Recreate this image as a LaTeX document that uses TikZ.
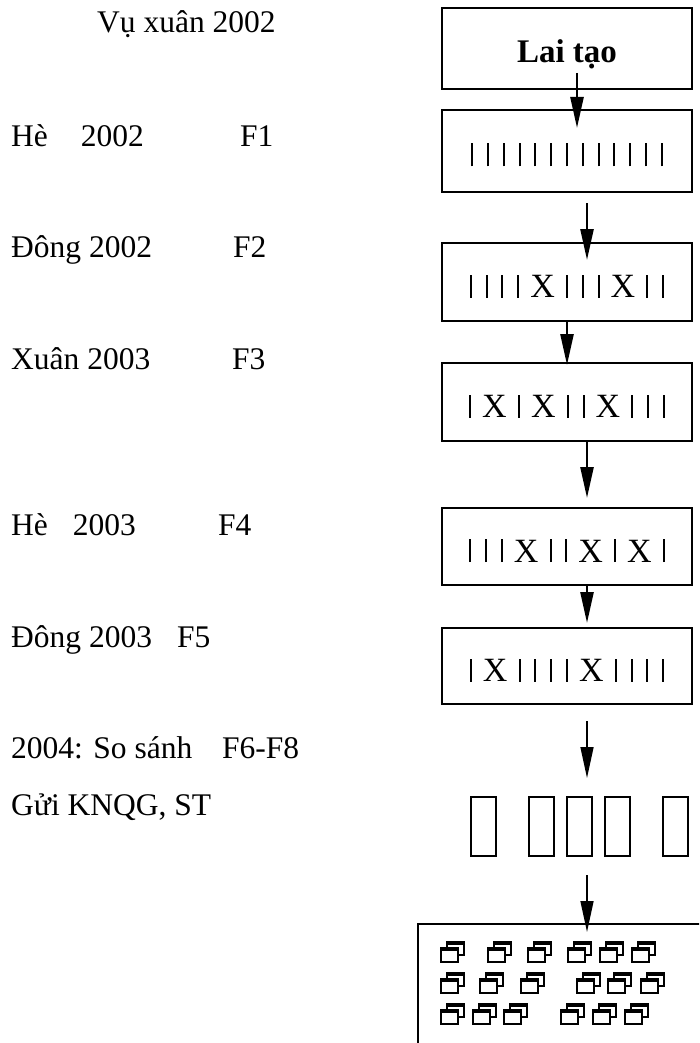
\documentclass[tikz,border=0pt]{standalone}
\usepackage{fontspec}
\setmainfont{Liberation Serif}
\usetikzlibrary{arrows.meta}
\newcommand{\vbar}{\hbox to 15.8pt{\hss\rule{2pt}{23pt}\hss}}
\newcommand{\xch}{\hbox to 33pt{\hss X\hss}}
\begin{document}
\begin{tikzpicture}[x=1pt,y=1pt,
  lbl/.style={anchor=base west, inner sep=0pt, font=\fontsize{31.5}{36}\selectfont},
  genbox/.style={draw, line width=2pt, minimum width=250pt, inner sep=0pt,
     text height=31pt, text depth=0pt, font=\fontsize{34}{40}\selectfont},
  tallbox/.style={draw, line width=2pt, minimum width=25pt, minimum height=59pt, inner sep=0pt},
  arr/.style={line width=2.5pt, -{Triangle[length=31pt,width=13pt]}},
  thinarr/.style={line width=1.5pt, -{Triangle[length=31pt,width=13pt]}},
  pics/winicon/.style={code={
    \draw[line width=2pt, fill=white] (6,0) rectangle (23,-13);
    \draw[line width=3.5pt] (6,-1) -- (23,-1);
    \draw[line width=2pt, fill=white] (0,-6) rectangle (17,-20);
    \draw[line width=3.5pt] (0,-7) -- (17,-7);
  }}]
\useasboundingbox (0,0) rectangle (699,-1043);
\clip (0,0) rectangle (699,-1043);

% left column
\node[lbl] (t0) at (97,-33) {Vụ xuân 2002};
\node[lbl] (t1) at (11,-147) {Hè\hspace{33pt}2002};
\node[lbl] (f1) at (240,-147) {F1};
\node[lbl] (t2) at (11,-257) {Đông 2002};
\node[lbl] (f2) at (233,-257) {F2};
\node[lbl] (t3) at (11,-369) {Xuân 2003};
\node[lbl] (f3) at (232,-369) {F3};
\node[lbl] (t4) at (11,-535) {Hè\hspace{25pt}2003};
\node[lbl] (f4) at (218,-535) {F4};
\node[lbl] (t5) at (11,-647) {Đông 2003};
\node[lbl] (f5) at (177,-647) {F5};
\node[lbl] (t6) at (11,-758) {2004: So sánh};
\node[lbl] (f6) at (222,-758) {F6-F8};
\node[lbl] (t7) at (11,-815) {Gửi KNQG, ST};

% right column boxes
\node[genbox, minimum height=81pt, text height=29pt, font=\fontsize{33}{40}\selectfont\bfseries] (b1) at (567,-48.5) {Lai tạo};
\node[genbox, minimum height=82pt] (b2) at (567,-151) {\vbar\vbar\vbar\vbar\vbar\vbar\vbar\vbar\vbar\vbar\vbar\vbar\vbar};
\node[genbox, minimum height=78pt] (b3) at (567,-282) {\vbar\vbar\vbar\vbar\xch\vbar\vbar\vbar\xch\vbar\vbar};
\node[genbox, minimum height=78pt] (b4) at (567,-402) {\vbar\xch\vbar\xch\vbar\vbar\xch\vbar\vbar\vbar};
\node[genbox, minimum height=77pt] (b5) at (567,-546.5) {\vbar\vbar\vbar\xch\vbar\vbar\xch\vbar\xch\vbar};
\node[genbox, minimum height=76pt] (b6) at (567,-666) {\vbar\xch\vbar\vbar\vbar\vbar\xch\vbar\vbar\vbar\vbar};

\node[tallbox] (r1) at (483.5,-826.5) {};
\node[tallbox] (r2) at (541,-826.5) {};
\node[tallbox] (r3) at (579.5,-826.5) {};
\node[tallbox] (r4) at (617.5,-826.5) {};
\node[tallbox] (r5) at (675,-826.5) {};

\node[draw, line width=1.5pt, minimum width=342pt, minimum height=176pt, inner sep=0pt] (b8) at (589,-1012) {};

% icons
\foreach \x in {440.7,488.3,528.3,568.3,600,632.3} \pic at (\x,-942) {winicon};
\foreach \x in {440.7,480,520.7,576.7,608.3,640.7} \pic at (\x,-973) {winicon};
\foreach \x in {440.7,472.7,504.3,560.7,592.7,625} \pic at (\x,-1004) {winicon};

% arrows
\coordinate (a1s) at (577,-73);  \coordinate (a1e) at (577,-128);
\coordinate (a2s) at (587,-203); \coordinate (a2e) at (587,-260);
\coordinate (a3s) at (567,-320); \coordinate (a3e) at (567,-365);
\coordinate (a4s) at (587,-441); \coordinate (a4e) at (587,-498);
\coordinate (a5s) at (587,-585); \coordinate (a5e) at (587,-623);
\coordinate (a6s) at (587,-721); \coordinate (a6e) at (587,-778);
\coordinate (a7s) at (587,-875); \coordinate (a7e) at (587,-932);
\draw[arr] (a1s) -- (a1e);
\draw[arr] (a2s) -- (a2e);
\draw[arr] (a3s) -- (a3e);
\draw[arr] (a4s) -- (a4e);
\draw[arr] (a5s) -- (a5e);
\draw[thinarr] (a6s) -- (a6e);
\draw[thinarr] (a7s) -- (a7e);
\end{tikzpicture}
\end{document}
